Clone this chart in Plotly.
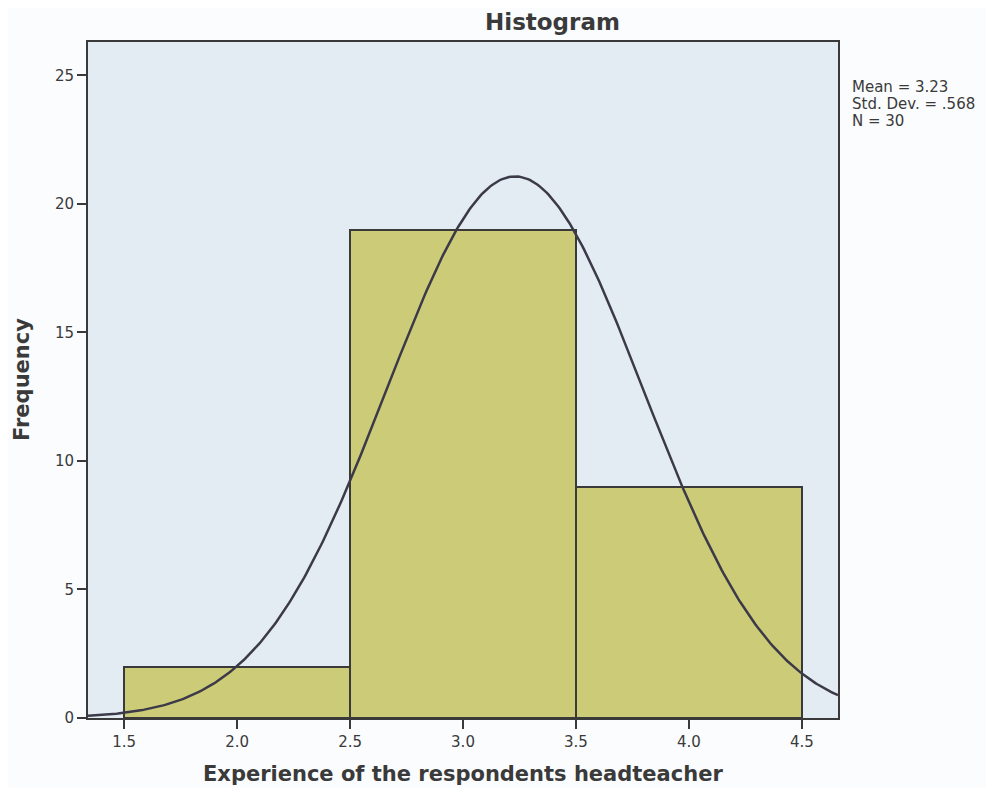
import numpy as np
import plotly.graph_objects as go

bin_centers = [2.0, 3.0, 4.0]
frequencies = [2, 19, 9]
bin_width = 1.0
mean_val = 3.23
std_val = 0.568
n_val = 30
x_ticks = [1.5, 2.0, 2.5, 3.0, 3.5, 4.0, 4.5]
y_ticks = [0, 5, 10, 15, 20, 25]
stat_lines = ["Mean = 3.23", "Std. Dev. = .568", "N = 30"]

x_range = [1.34, 4.66]
y_range = [0, 26.3]

xs = np.linspace(x_range[0], x_range[1], 400)
ys = n_val * bin_width / (std_val * np.sqrt(2 * np.pi)) * np.exp(-0.5 * ((xs - mean_val) / std_val) ** 2)

fig = go.Figure()
fig.add_trace(go.Bar(
    x=bin_centers, y=frequencies, width=[bin_width] * 3,
    marker=dict(color="#cbcb78", line=dict(color="#3a3a3a", width=2)),
    hoverinfo="skip", showlegend=False,
))
fig.add_trace(go.Scatter(
    x=xs, y=ys, mode="lines", line=dict(color="#3c3a48", width=2.5),
    hoverinfo="skip", showlegend=False,
))

tick_font = dict(family="DejaVu Sans, Liberation Sans, sans-serif", size=15, color="#3a3a3a")
bold_font = "DejaVu Sans, Liberation Sans, sans-serif"

annotations = [
    dict(text="<b>Histogram</b>", xref="paper", yref="paper", x=0.619, y=1.0,
         yshift=20, showarrow=False, xanchor="center", yanchor="middle",
         font=dict(family=bold_font, size=23, color="#3a3a3a")),
    dict(text="<b>Experience of the respondents headteacher</b>", xref="paper", yref="paper",
         x=0.5, y=0.0, yshift=-56, showarrow=False, xanchor="center", yanchor="middle",
         font=dict(family=bold_font, size=21, color="#3a3a3a")),
    dict(text="<b>Frequency</b>", xref="paper", yref="paper", x=0.0, y=0.5, xshift=-66,
         textangle=-90, showarrow=False, xanchor="center", yanchor="middle",
         font=dict(family=bold_font, size=21, color="#3a3a3a")),
]
for i, line in enumerate(stat_lines):
    annotations.append(dict(
        text=line, xref="paper", yref="paper", x=1.0, y=1.0, xshift=12, yshift=-45 - 17 * i,
        showarrow=False, xanchor="left", yanchor="middle", align="left",
        font=dict(family="DejaVu Sans, Liberation Sans, sans-serif", size=15, color="#3a3a3a"),
    ))

fig.update_layout(
    width=978, height=780,
    margin=dict(l=80, r=148, t=34, b=70),
    paper_bgcolor="#fafcfd",
    plot_bgcolor="#e3ecf3",
    bargap=0,
    font=tick_font,
    xaxis=dict(
        range=x_range, tickvals=x_ticks, ticktext=[f"{v:.1f}" for v in x_ticks],
        ticks="outside", ticklen=9, tickwidth=2, tickcolor="#3a3a3a",
        showgrid=False, zeroline=False,
        showline=True, linecolor="#3a3a3a", linewidth=2, mirror=True,
    ),
    yaxis=dict(
        range=y_range, tickvals=y_ticks,
        ticks="outside", ticklen=9, tickwidth=2, tickcolor="#3a3a3a",
        showgrid=False, zeroline=False,
        showline=True, linecolor="#3a3a3a", linewidth=2, mirror=True,
    ),
    annotations=annotations,
)

fig.write_html("out.html")
